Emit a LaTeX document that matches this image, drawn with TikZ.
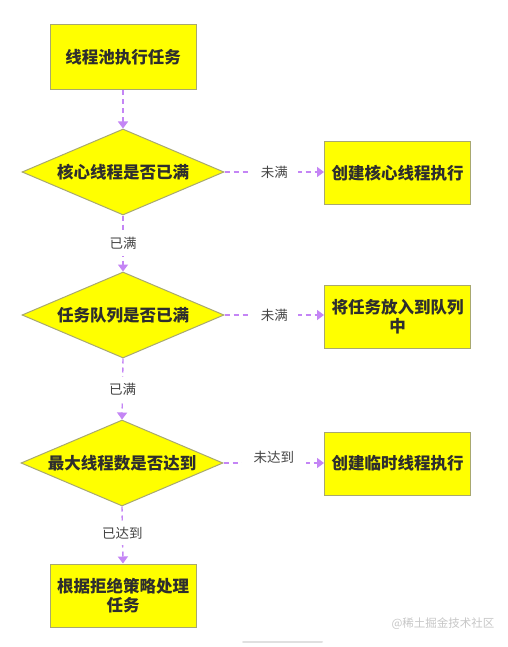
\documentclass[tikz,border=0pt]{standalone}
\usepackage{fontspec}
\setmainfont{Noto Sans CJK SC}
\usetikzlibrary{shapes.geometric,arrows.meta}
\definecolor{flowyel}{HTML}{FFFF00}
\definecolor{flowedge}{HTML}{A8A870}
\definecolor{flowarrow}{HTML}{C485F5}
\definecolor{flowtext}{HTML}{2E2E2E}
\definecolor{labtext}{HTML}{444444}
\tikzset{
  procbox/.style={draw=flowedge, line width=1pt, fill=flowyel, minimum width=146pt, minimum height=63pt, inner sep=2pt, align=center, text width=140pt, font=\fontsize{16.5}{19}\selectfont\bfseries, text=flowtext},
  decide/.style={diamond, draw=flowedge, line width=1pt, fill=flowyel, inner sep=0pt, aspect=2.35, minimum width=202pt, minimum height=86pt, font=\fontsize{16.5}{19}\selectfont\bfseries, text=flowtext},
  flow/.style={draw=flowarrow, line width=1.4pt, dash pattern=on 5pt off 4pt, -{Triangle[width=10pt,length=7pt]}},
  edgelab/.style={fill=white, inner xsep=10pt, inner ysep=3pt, font=\fontsize{13.5}{16}\selectfont, text=labtext},
}
\begin{document}
\begin{tikzpicture}[x=1pt,y=-1pt]
\useasboundingbox (0,0) rectangle (507,647);
\fill[white] (0,0) rectangle (507,647);
\node[procbox, minimum height=65pt] (start) at (123,57.5) {线程池执行任务};
\node[decide] (d1) at (123,172) {核心线程是否已满};
\node[procbox] (b1) at (397.5,173) {创建核心线程执行};
\node[decide] (d2) at (123,315) {任务队列是否已满};
\node[procbox] (b2) at (397.5,316.5) {将任务放入到队列\\中};
\node[decide] (d3) at (122,463) {最大线程数是否达到};
\node[procbox] (b3) at (397.5,463.5) {创建临时线程执行};
\node[procbox] (end) at (123,595.5) {根据拒绝策略处理\\任务};

\draw[flow] (start.south) -- (d1.north);
\draw[flow] (d1.east) -- node[edgelab] (l1) {未满} (b1.west |- d1.east);
\draw[flow] (d1.south) -- node[edgelab, inner xsep=3pt, inner ysep=6pt] (l2) {已满} (d2.north);
\draw[flow] (d2.east) -- node[edgelab] (l3) {未满} (b2.west |- d2.east);
\draw[flow] (d2.south) -- node[edgelab, inner xsep=3pt, inner ysep=6pt] (l4) {已满} (d3.north);
\draw[flow] (d3.east) -- node[edgelab, inner xsep=12pt, inner ysep=9pt, yshift=6pt] (l5) {未达到} (b3.west |- d3.east);
\draw[flow] (d3.south) -- node[edgelab, inner xsep=3pt, inner ysep=6pt, pos=0.47] (l6) {已达到} (end.north);

\node[text=black!22, font=\fontsize{11.5}{13}\selectfont] (wm) at (443,624) {@稀土掘金技术社区};
\coordinate (sbl) at (243,642);
\coordinate (sbr) at (322,642);
\draw[black!12, line width=2pt, line cap=round] (sbl) -- (sbr);
\end{tikzpicture}
\end{document}
